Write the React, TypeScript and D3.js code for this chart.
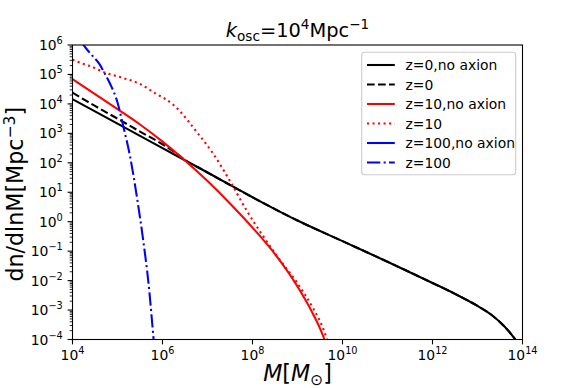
import React from 'react';
import * as d3 from 'd3';

// ---- data (log10 M [Msun], log10 dn/dlnM [Mpc^-3]) ----
const z0NoAxionLogM = [4.0, 5.0, 6.0, 7.0, 8.0, 9.0, 10.0, 11.0, 12.0, 12.5, 13.0, 13.3, 13.6, 13.8, 13.95];
const z0NoAxionLogN = [4.16, 3.33, 2.5, 1.67, 0.83, 0.04, -0.66, -1.36, -2.08, -2.45, -2.86, -3.15, -3.56, -3.92, -4.25];

const z0LogM = [4.0, 4.5, 5.0, 5.5, 6.0, 6.3, 6.6, 6.8, 7.0, 8.0, 9.0, 10.0, 11.0, 12.0, 12.5, 13.0, 13.3, 13.6, 13.8, 13.95];
const z0LogN = [4.38, 3.93, 3.5, 3.06, 2.63, 2.33, 1.99, 1.84, 1.67, 0.83, 0.04, -0.66, -1.36, -2.08, -2.45, -2.86, -3.15, -3.56, -3.92, -4.25];

const z10NoAxionLogM = [4.0, 4.5, 5.0, 5.5, 6.0, 6.5, 7.0, 7.5, 8.0, 8.5, 9.0, 9.3, 9.5, 9.6, 9.7];
const z10NoAxionLogN = [4.84, 4.33, 3.82, 3.3, 2.72, 2.08, 1.38, 0.62, -0.2, -1.1, -2.2, -3.0, -3.62, -4.0, -4.42];

const z10LogM = [4.0, 4.2, 4.43, 4.73, 5.1, 5.47, 5.84, 6.2, 6.43, 6.58, 6.76, 7.13, 7.5, 7.87, 8.24, 8.61, 8.98, 9.35, 9.55, 9.68];
const z10LogN = [5.5, 5.38, 5.26, 5.06, 4.89, 4.7, 4.36, 4.02, 3.68, 3.4, 3.05, 2.3, 1.38, 0.38, -0.5, -1.3, -2.05, -2.95, -3.55, -4.1];

const z100NoAxionLogM: number[] = [];
const z100NoAxionLogN: number[] = [];

const z100LogM = [4.2, 4.3, 4.45, 4.6, 4.7, 4.83, 5.0, 5.13, 5.28, 5.43, 5.57, 5.69, 5.8, 5.83];
const z100LogN = [6.1, 5.89, 5.62, 5.35, 5.08, 4.7, 4.05, 3.23, 2.21, 0.85, -0.62, -2.1, -3.96, -4.5];

const seriesLabels = ['z=0,no axion', 'z=0', 'z=10,no axion', 'z=10', 'z=100,no axion', 'z=100'];
const xTickExps = [4, 6, 8, 10, 12, 14];
const yTickExps = [-4, -3, -2, -1, 0, 1, 2, 3, 4, 5, 6];

// ---- layout ----
const W = 581;
const H = 388;
const L = 72.5, R = 522.5, T = 45, B = 339.5;
const FONT = 'DejaVu Sans, sans-serif';
const TICK_FS = 13.9;
const TITLE_FS = 19.4;
const LABEL_FS = 22.2;
const LW = 2.08;

const x = d3.scaleLog().domain([1e4, 1e14]).range([L, R]);
const y = d3.scaleLog().domain([1e-4, 1e6]).range([B, T]);

const styles = [
  { color: '#000000', dash: undefined as string | undefined },
  { color: '#000000', dash: '7.7,3.3' },
  { color: '#ff0000', dash: undefined },
  { color: '#ff0000', dash: '2.08,3.44' },
  { color: '#0000ff', dash: undefined },
  { color: '#0000ff', dash: '13.3,3.3,2.08,3.3' },
];

const seriesData = [
  [z0NoAxionLogM, z0NoAxionLogN],
  [z0LogM, z0LogN],
  [z10NoAxionLogM, z10NoAxionLogN],
  [z10LogM, z10LogN],
  [z100NoAxionLogM, z100NoAxionLogN],
  [z100LogM, z100LogN],
];

const line = d3
  .line<[number, number]>()
  .x((d) => x(Math.pow(10, d[0])))
  .y((d) => y(Math.pow(10, d[1])))
  .curve(d3.curveMonotoneX);

function Pow({ px, py, anchor, exp }: { px: number; py: number; anchor: string; exp: number }) {
  const e = exp < 0 ? '\u2212' + Math.abs(exp) : String(exp);
  return (
    <text x={px} y={py} textAnchor={anchor} fontSize={TICK_FS} fontFamily={FONT} fill="#000">
      10<tspan dy={-6} fontSize={TICK_FS * 0.7}>{e}</tspan>
    </text>
  );
}

export default function App() {
  const minorY: number[] = [];
  for (let k = -4; k < 6; k++) for (let s = 2; s <= 9; s++) minorY.push(s * Math.pow(10, k));

  const legX = 361.7, legY = 52.3, legW = 154, legH = 122.5;
  const rowY0 = 65, rowDY = 19.5;

  return (
    <svg width={W} height={H} style={{ position: 'absolute', left: 0, top: 0, display: 'block' }} fontFamily={FONT}>
      <rect x={0} y={0} width={W} height={H} fill="#fff" />
      <defs>
        <clipPath id="plotclip">
          <rect x={L} y={T} width={R - L} height={B - T} />
        </clipPath>
      </defs>

      {/* series */}
      <g clipPath="url(#plotclip)">
        {seriesData.map(([ms, ns], i) => {
          if (ms.length === 0) return null;
          const pts = ms.map((m, j) => [m, ns[j]] as [number, number]);
          return (
            <path
              key={i}
              d={line(pts) || ''}
              fill="none"
              stroke={styles[i].color}
              strokeWidth={LW}
              strokeDasharray={styles[i].dash}
              strokeLinecap="butt"
              strokeLinejoin="round"
            />
          );
        })}
      </g>

      {/* frame */}
      <rect x={L} y={T} width={R - L} height={B - T} fill="none" stroke="#000" strokeWidth={1.1} />

      {/* x ticks */}
      {xTickExps.map((e) => {
        const px = x(Math.pow(10, e));
        return (
          <g key={'xt' + e}>
            <line x1={px} x2={px} y1={B} y2={B + 4.9} stroke="#000" strokeWidth={1.1} />
            <Pow px={px} py={359.5} anchor="middle" exp={e} />
          </g>
        );
      })}

      {/* y ticks */}
      {minorY.map((v, i) => {
        const py = y(v);
        return <line key={'ym' + i} x1={L - 2.8} x2={L} y1={py} y2={py} stroke="#000" strokeWidth={0.83} />;
      })}
      {yTickExps.map((e) => {
        const py = y(Math.pow(10, e));
        return (
          <g key={'yt' + e}>
            <line x1={L - 4.9} x2={L} y1={py} y2={py} stroke="#000" strokeWidth={1.1} />
            <Pow px={62.8} py={py + 5} anchor="end" exp={e} />
          </g>
        );
      })}

      {/* legend */}
      <rect x={legX} y={legY} width={legW} height={legH} rx={3} ry={3} fill="#fff" fillOpacity={0.8} stroke="#cccccc" strokeWidth={1.1} />
      {seriesLabels.map((lab, i) => {
        const cy = rowY0 + i * rowDY;
        return (
          <g key={'lg' + i}>
            <line
              x1={367}
              x2={394.8}
              y1={cy}
              y2={cy}
              stroke={styles[i].color}
              strokeWidth={LW}
              strokeDasharray={styles[i].dash}
            />
            <text x={405.5} y={cy + 5} fontSize={TICK_FS} fill="#000">
              {lab}
            </text>
          </g>
        );
      })}

      {/* title */}
      <text x={(L + R) / 2} y={37} textAnchor="middle" fontSize={TITLE_FS} fill="#000">
        <tspan fontStyle="italic">k</tspan>
        <tspan dy={4} fontSize={TITLE_FS * 0.7}>osc</tspan>
        <tspan dy={-4}>=10</tspan>
        <tspan dy={-8} fontSize={TITLE_FS * 0.7}>4</tspan>
        <tspan dy={8}>Mpc</tspan>
        <tspan dy={-8} fontSize={TITLE_FS * 0.7}>{'\u22121'}</tspan>
      </text>

      {/* x label */}
      <text x={(L + R) / 2} y={381} textAnchor="middle" fontSize={LABEL_FS} fill="#000">
        <tspan fontStyle="italic">M</tspan>
        <tspan>[</tspan>
        <tspan fontStyle="italic">M</tspan>
        <tspan dy={3.5} fontSize={LABEL_FS * 0.7}>{'\u2299'}</tspan>
        <tspan dy={-3.5}>]</tspan>
      </text>

      {/* y label */}
      <text transform={`translate(23,${(T + B) / 2 + 2}) rotate(-90)`} textAnchor="middle" fontSize={LABEL_FS} fill="#000">
        dn/dlnM[Mpc
        <tspan dy={-8} fontSize={LABEL_FS * 0.7}>{'\u22123'}</tspan>
        <tspan dy={8}>]</tspan>
      </text>
    </svg>
  );
}
